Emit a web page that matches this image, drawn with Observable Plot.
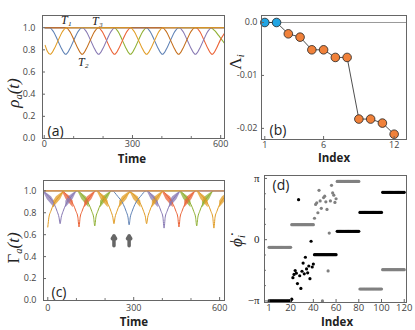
<!DOCTYPE html>
<html><head><meta charset="utf-8">
<script src="https://cdn.jsdelivr.net/npm/d3@7"></script>
<script src="https://cdn.jsdelivr.net/npm/@observablehq/plot@0.6"></script>
<style>
body{margin:0;background:#fff;}
#fig{position:relative;width:415px;height:330px;overflow:hidden;font-family:"Open Sans",sans-serif;color:#333;}
.p{position:absolute;}
.yl{position:absolute;font-family:"Liberation Serif",serif;font-style:italic;white-space:nowrap;transform:translate(-50%,-50%) rotate(-90deg);color:#222;}
.yl sub{font-size:0.62em;vertical-align:-0.3em;}
.up{font-style:normal;}
.xl{position:absolute;font-weight:bold;font-size:11.5px;transform:translate(-50%,-50%);color:#222;line-height:1;}
</style></head><body><div id="fig"></div>
<script>
// ---------- Panel (a): rho_alpha(t) ----------
const aOrange = [[3,0.84],[10,0.79],[20,0.76],[34,0.81],[48,0.89],[62,0.965],[75,1],[293,1],[306,0.965],[320,0.89],[334,0.81],[348,0.76],[362,0.81],[376,0.89],[390,0.965],[403,1],[613,1]];
const aBlue = [[3,1],[18,1],[31,0.965],[45,0.89],[59,0.81],[73,0.76],[87,0.81],[101,0.89],[115,0.965],[128,1],[347,1],[360,0.965],[374,0.89],[388,0.81],[402,0.76],[416,0.81],[430,0.89],[444,0.965],[457,1],[613,1]];
const aBrown = [[3,1],[74,1],[87,0.965],[101,0.89],[115,0.81],[129,0.76],[143,0.81],[157,0.89],[171,0.965],[184,1],[402,1],[415,0.965],[429,0.89],[443,0.81],[457,0.76],[471,0.81],[485,0.89],[499,0.965],[512,1],[613,1]];
const aPurple = [[3,1],[130,1],[143,0.965],[157,0.89],[171,0.81],[185,0.76],[199,0.81],[213,0.89],[227,0.965],[240,1],[459,1],[472,0.965],[486,0.89],[500,0.81],[514,0.76],[528,0.81],[542,0.89],[556,0.965],[569,1],[613,1]];
const aRed = [[3,1],[184,1],[197,0.965],[211,0.89],[225,0.81],[239,0.76],[253,0.81],[267,0.89],[281,0.965],[294,1],[516,1],[529,0.965],[543,0.89],[557,0.81],[571,0.76],[585,0.81],[599,0.89],[613,0.95]];
const aGreen = [[3,1],[238,1],[251,0.965],[265,0.89],[279,0.81],[293,0.76],[307,0.81],[321,0.89],[335,0.965],[348,1],[566,1],[579,0.975],[593,0.93],[607,0.88],[613,0.86]];
const aYTicks = [0, 0.2, 0.4, 0.6, 0.8, 1.0];
const aXTicks = [0, 300, 600];
const aXMinor = [100, 200, 400, 500];
const aLabels = [{t: 75, v: 1.065, s: "T\u2081"}, {t: 181, v: 1.058, s: "T\u2083"}, {t: 133, v: 0.69, s: "T\u2082"}];

// ---------- Panel (b): Lambda_i ----------
const bIndex = [1,2,3,4,5,6,7,8,9,10,11,12];
const bLambda = [0, 0, -0.00214, -0.00277, -0.00516, -0.00516, -0.0066, -0.0066, -0.01824, -0.01824, -0.0190, -0.0211];
const bGroup = ["zero","zero","neg","neg","neg","neg","neg","neg","neg","neg","neg","neg"];
const bYTicks = [0, -0.01, -0.02];
const bYTickLabels = ["0.0", "-0.01", "-0.02"];
const bXTicks = [1, 6, 12];

// ---------- Panel (c): Gamma_alpha(t) ----------
const cOrange = [[0,0.67],[4,0.76],[10,0.81],[20,0.875],[40,0.95],[60,1],[171,1],[191,0.95],[211,0.875],[221,0.81],[227,0.76],[231,0.70],[235,0.76],[241,0.81],[251,0.875],[271,0.95],[288,0.985],[305,0.95],[325,0.875],[335,0.81],[341,0.76],[345,0.70],[349,0.76],[355,0.81],[365,0.875],[385,0.95],[405,1],[520,1],[540,0.95],[560,0.875],[570,0.81],[576,0.76],[580,0.66],[584,0.76],[590,0.81],[600,0.875],[620,0.95]];
const cPurple = [[-17,1],[3,0.95],[23,0.875],[33,0.81],[39,0.76],[43,0.70],[47,0.76],[53,0.81],[63,0.875],[83,0.95],[103,1],[346,1],[366,0.95],[386,0.875],[396,0.81],[402,0.76],[406,0.66],[410,0.76],[416,0.81],[426,0.875],[446,0.95],[466,1],[620,1]];
const cRed = [[-15,1],[49,1],[69,0.95],[89,0.875],[99,0.81],[105,0.76],[109,0.67],[113,0.76],[119,0.81],[129,0.875],[149,0.95],[169,1],[398,1],[418,0.95],[438,0.875],[448,0.81],[454,0.76],[458,0.67],[462,0.76],[468,0.81],[478,0.875],[498,0.95],[518,1],[620,1]];
const cGreen = [[-15,1],[104,1],[124,0.95],[144,0.875],[154,0.81],[160,0.76],[164,0.68],[168,0.76],[174,0.81],[184,0.875],[204,0.95],[224,1],[460,1],[480,0.95],[500,0.875],[510,0.81],[516,0.76],[520,0.68],[524,0.76],[530,0.81],[540,0.875],[560,0.95],[580,1],[620,1]];
const cBlue = [[-15,1],[224,1],[244,0.95],[264,0.875],[274,0.81],[280,0.76],[284,0.69],[288,0.76],[294,0.81],[304,0.875],[324,0.95],[344,1],[620,1]];
const cBrown = [[-15,1],[620,1]];
// fast-oscillation bands: [segment, t, low, high]
const cBandOrange = [[0,20,0.845,0.905],[0,30,0.875,0.945],[0,45,0.92,0.975],[0,60,1,1],
  [1,171,1,1],[1,186,0.92,0.975],[1,201,0.875,0.945],[1,211,0.845,0.905],
  [2,251,0.845,0.905],[2,261,0.875,0.945],[2,276,0.92,0.975],[2,291,1,1],
  [3,285,1,1],[3,300,0.92,0.975],[3,315,0.875,0.945],[3,325,0.845,0.905],
  [4,365,0.845,0.905],[4,375,0.875,0.945],[4,390,0.92,0.975],[4,405,1,1],
  [5,520,1,1],[5,535,0.92,0.975],[5,550,0.875,0.945],[5,560,0.845,0.905],
  [6,600,0.845,0.905],[6,610,0.875,0.945],[6,625,0.92,0.975]];
const cBandPurple = [[0,-17,1,1],[0,-2,0.92,0.975],[0,13,0.875,0.945],[0,23,0.845,0.905],
  [1,63,0.845,0.905],[1,73,0.875,0.945],[1,88,0.92,0.975],[1,103,1,1],
  [2,346,1,1],[2,361,0.92,0.975],[2,376,0.875,0.945],[2,386,0.845,0.905],
  [3,426,0.845,0.905],[3,436,0.875,0.945],[3,451,0.92,0.975],[3,466,1,1]];
const cBandRed = [[0,49,1,1],[0,64,0.92,0.975],[0,79,0.875,0.945],[0,89,0.845,0.905],
  [1,129,0.845,0.905],[1,139,0.875,0.945],[1,154,0.92,0.975],[1,169,1,1],
  [2,398,1,1],[2,413,0.92,0.975],[2,428,0.875,0.945],[2,438,0.845,0.905],
  [3,478,0.845,0.905],[3,488,0.875,0.945],[3,503,0.92,0.975],[3,518,1,1]];
const cBandGreen = [[0,104,1,1],[0,119,0.92,0.975],[0,134,0.875,0.945],[0,144,0.845,0.905],
  [1,184,0.845,0.905],[1,194,0.875,0.945],[1,209,0.92,0.975],[1,224,1,1],
  [2,460,1,1],[2,475,0.92,0.975],[2,490,0.875,0.945],[2,500,0.845,0.905],
  [3,540,0.845,0.905],[3,550,0.875,0.945],[3,565,0.92,0.975],[3,580,1,1]];
const cYTicks = [0, 0.2, 0.4, 0.6, 0.8, 1.0];
const cXTicks = [0, 300, 600];
const cXMinor = [100, 200, 400, 500];
const cArrows = [231, 284];

// ---------- Panel (d): phi_i ----------
const dBlack = [
 -3.14,-3.14,-3.14,-3.14,-3.14,-3.14,-3.14,-3.14,-3.14,-3.14,-3.14,-3.14,-3.14,-3.14,-3.14,-3.14,-3.14,-3.14,-3.14,-3.12,
 -3.05,-1.95,-1.78,-1.58,-1.72,-2.25,2.05,-1.85,-2.5,-1.62,-1.2,-1.75,-0.9,-1.5,-1.7,-1.35,-2.0,-0.08,-1.4,-1.25,
 -0.77,-0.77,-0.77,-0.77,-0.77,-0.77,-0.77,-0.77,-0.77,-0.77,-0.77,-0.77,-0.77,-0.77,-0.77,-0.77,-0.77,-0.77,-0.77,-0.77,
 0.43,0.43,0.43,0.43,0.43,0.43,0.43,0.43,0.43,0.43,0.43,0.43,0.43,0.43,0.43,0.43,0.43,0.43,0.43,0.43,
 1.40,1.40,1.40,1.40,1.40,1.40,1.40,1.40,1.40,1.40,1.40,1.40,1.40,1.40,1.40,1.40,1.40,1.40,1.40,1.40,
 2.43,2.43,2.43,2.43,2.43,2.43,2.43,2.43,2.43,2.43,2.43,2.43,2.43,2.43,2.43,2.43,2.43,2.43,2.43,2.43];
const dGray = [
 -0.39,-0.39,-0.39,-0.39,-0.39,-0.39,-0.39,-0.39,-0.39,-0.39,-0.39,-0.39,-0.39,-0.39,-0.39,-0.39,-0.39,-0.39,-0.39,-0.39,
 0.77,0.77,0.77,0.77,0.77,0.77,0.77,0.77,0.77,0.77,0.77,0.77,0.77,0.77,0.77,0.77,0.77,0.77,0.77,0.77,
 1.10,1.81,1.89,1.38,2.53,1.99,1.61,-3.14,2.16,2.23,1.94,1.55,-1.6,0.34,1.99,2.79,2.40,2.28,1.91,2.10,
 2.99,2.99,2.99,2.99,2.99,2.99,2.99,2.99,2.99,2.99,2.99,2.99,2.99,2.99,2.99,2.99,2.99,2.99,2.99,2.99,
 -2.53,-2.53,-2.53,-2.53,-2.53,-2.53,-2.53,-2.53,-2.53,-2.53,-2.53,-2.53,-2.53,-2.53,-2.53,-2.53,-2.53,-2.53,-2.53,-2.53,
 -1.54,-1.54,-1.54,-1.54,-1.54,-1.54,-1.54,-1.54,-1.54,-1.54,-1.54,-1.54,-1.54,-1.54,-1.54,-1.54,-1.54,-1.54,-1.54,-1.54];
const dXTicks = [1, 20, 40, 60, 80, 100, 120];
const dYTicks = [-Math.PI, 0, Math.PI];
const dYMinor = [-2.356, -1.571, -0.785, 0.785, 1.571, 2.356];
const dYTickLabels = ["\u2212\u03c0", "0", "\u03c0"];

// ---------- colours (Mathematica default palette) ----------
const C = {blue:"#5E81B5", orange:"#E19C24", green:"#8FB032", red:"#EB6235", purple:"#8778B3", brown:"#C56E1A", tan:"#D9A15E"};

const fig = document.getElementById("fig");
const baseStyle = {fontFamily: "'Open Sans', sans-serif", fontSize: "9px", color: "#444", background: "transparent", overflow: "visible"};
function place(svg, left, top) { svg.classList.add("p"); svg.style.left = left + "px"; svg.style.top = top + "px"; fig.appendChild(svg); }
function html(cls, left, top, inner, extra) { const d = document.createElement("div"); d.className = cls; d.style.left = left + "px"; d.style.top = top + "px"; d.innerHTML = inner; if (extra) Object.assign(d.style, extra); fig.appendChild(d); }
const toObj = a => a.map(([t, v]) => ({t, v}));
const toBand = a => a.map(([s, t, lo, hi]) => ({s, t, lo, hi}));
const frame = Plot.frame({stroke: "#666", strokeWidth: 1});
const minorX = ticks => Plot.axisX({ticks, tickSize: -2, tickFormat: () => "", label: null, stroke: "#777"});
const minorY = ticks => Plot.axisY({ticks, tickSize: -2, tickFormat: () => "", label: null, stroke: "#777"});

// Panel a
const aSeries = [[aGreen,C.green],[aRed,C.red],[aPurple,C.purple],[aBlue,C.blue],[aBrown,C.brown],[aOrange,C.orange]];
place(Plot.plot({
  width: 230, height: 165, marginLeft: 42, marginRight: 6, marginTop: 15, marginBottom: 27,
  style: baseStyle,
  x: {domain: [-6, 613]}, y: {domain: [0, 1.11]},
  marks: [
    ...aSeries.map(([d, c]) => Plot.line(toObj(d), {x: "t", y: "v", stroke: c, strokeWidth: 1.1, curve: "monotone-x", clip: true})),
    Plot.text(aLabels, {x: "t", y: "v", text: "s", fontFamily: "'Liberation Serif', serif", fontStyle: "italic", fontSize: 12, fill: "#222"}),
    Plot.text(["(a)"], {frameAnchor: "bottom-left", dx: 5, dy: -3, lineAnchor: "bottom", textAnchor: "start", fontSize: 14, fill: "#222"}),
    Plot.axisY({ticks: aYTicks, tickFormat: d3.format(".1f"), tickSize: -3, tickPadding: 10, label: null, stroke: "#666"}),
    Plot.axisX({ticks: aXTicks, tickSize: -3, tickPadding: 5, label: null, stroke: "#666"}),
    minorX(aXMinor),
    frame
  ]
}), 0, 0);

// Panel b
const bData = bIndex.map((x, i) => ({x, y: bLambda[i], g: bGroup[i]}));
place(Plot.plot({
  width: 185, height: 165, marginLeft: 31, marginRight: 9, marginTop: 15, marginBottom: 26,
  style: baseStyle,
  x: {domain: [0.72, 13.05]}, y: {domain: [-0.0221, 0.00132]},
  color: {domain: ["zero", "neg"], range: ["#22A5E3", "#F0813A"]},
  marks: [
    Plot.ruleY([0], {stroke: "#999", strokeWidth: 1}),
    Plot.line(bData, {x: "x", y: "y", stroke: "#222", strokeWidth: 0.8}),
    Plot.dot(bData, {x: "x", y: "y", fill: "g", stroke: "#222", strokeWidth: 0.8, r: 4.3}),
    Plot.text(["(b)"], {frameAnchor: "bottom-left", dx: 8, dy: -5, lineAnchor: "bottom", textAnchor: "start", fontSize: 14, fill: "#222"}),
    Plot.axisY({ticks: bYTicks, tickFormat: (d, i) => bYTickLabels[i], tickSize: -3, tickPadding: 7, label: null, stroke: "#666"}),
    Plot.axisX({ticks: bXTicks, tickSize: -3, tickPadding: 5, label: null, stroke: "#666"}),
    frame
  ]
}), 230, 0);

// Panel c
const cSeries = [[cBlue,C.blue],[cGreen,C.green],[cRed,C.red],[cPurple,C.purple],[cOrange,C.orange],[cBrown,C.tan]];
const cBands = [[cBandGreen,C.green],[cBandRed,C.red],[cBandPurple,C.purple],[cBandOrange,C.orange]];
place(Plot.plot({
  width: 230, height: 165, marginLeft: 43, marginRight: 6, marginTop: 15, marginBottom: 30,
  style: baseStyle,
  x: {domain: [-15, 617]}, y: {domain: [0, 1.094]},
  marks: [
    ...cBands.map(([d, c]) => Plot.areaY(toBand(d), {x: "t", y1: "lo", y2: "hi", z: "s", fill: c, fillOpacity: 0.75, clip: true})),
    ...cSeries.map(([d, c]) => Plot.line(toObj(d), {x: "t", y: "v", stroke: c, strokeWidth: 1, curve: "monotone-x", clip: true})),
    Plot.arrow(cArrows, {x1: d => d, x2: d => d, y1: 0.5, y2: 0.59, stroke: "#666", strokeWidth: 3.5, headLength: 6}),
    Plot.text(["(c)"], {frameAnchor: "bottom-left", dx: 8, dy: -4, lineAnchor: "bottom", textAnchor: "start", fontSize: 14, fill: "#222"}),
    Plot.axisY({ticks: cYTicks, tickFormat: d3.format(".1f"), tickSize: -3, tickPadding: 10, label: null, stroke: "#666"}),
    Plot.axisX({ticks: cXTicks, tickSize: -3, tickPadding: 7, label: null, stroke: "#666"}),
    minorX(cXMinor),
    frame
  ]
}), 0, 165);

// Panel d
const dData = [
  ...dGray.map((y, i) => ({x: i + 1, y, g: "gray"})),
  ...dBlack.map((y, i) => ({x: i + 1, y, g: "black"}))
];
place(Plot.plot({
  width: 185, height: 165, marginLeft: 34, marginRight: 9, marginTop: 10, marginBottom: 28,
  style: baseStyle,
  x: {domain: [-3, 122]}, y: {domain: [-Math.PI - 0.08, Math.PI + 0.15]},
  color: {domain: ["gray", "black"], range: ["#8a8a8a", "#000"]},
  marks: [
    Plot.dot(dData, {x: "x", y: "y", fill: "g", r: 1.6, clip: true}),
    Plot.text(["(d)"], {frameAnchor: "top-left", dx: 8, dy: 5, lineAnchor: "top", textAnchor: "start", fontSize: 14, fill: "#222"}),
    Plot.axisY({ticks: dYTicks, tickFormat: (d, i) => dYTickLabels[i], tickSize: -3, tickPadding: 8, label: null, stroke: "#666", fontFamily: "'Liberation Serif', serif", fontSize: 11, fill: "#222"}),
    minorY(dYMinor),
    Plot.axisX({ticks: dXTicks, tickSize: -3, tickPadding: 5, label: null, stroke: "#666", fontSize: 9.5}),
    frame
  ]
}), 230, 165);

// axis titles
html("yl", 14, 93, "<i>\u03c1</i><sub>a</sub>(<i>t</i>)", {fontSize: "17px"});
html("yl", 14, 248, "<span class='up'>\u0393</span><sub>a</sub>(<i>t</i>)", {fontSize: "17px"});
html("yl", 236, 62, "<span class='up'>\u039b</span><sub>i</sub>", {fontSize: "17px"});
html("yl", 237, 241, "<i>\u03d5\u0307</i><sub>i</sub>", {fontSize: "17px"});
html("xl", 132, 159, "Time");
html("xl", 134, 322, "Time");
html("xl", 334, 158, "Index");
html("xl", 337, 322, "Index");
</script></body></html>
